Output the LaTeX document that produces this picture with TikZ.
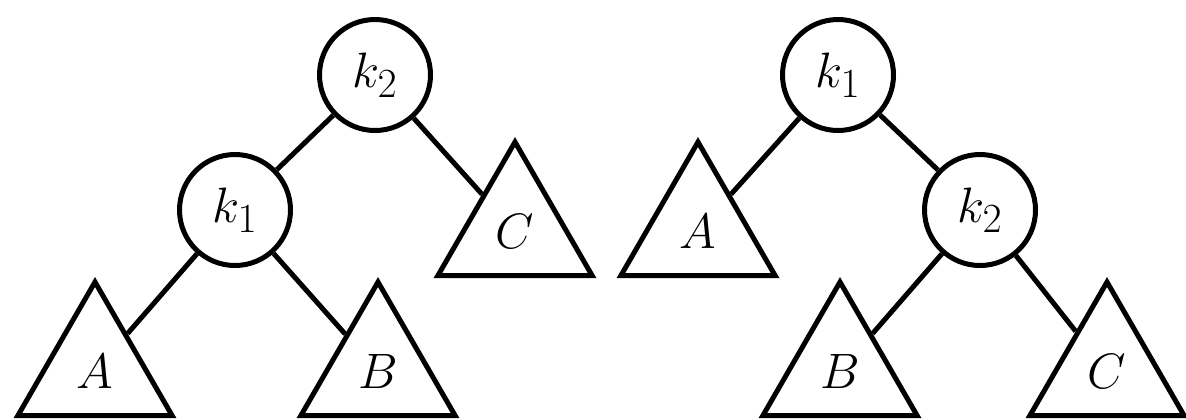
\documentclass[tikz,border=0pt]{standalone}
\usepackage{tikz}
\usetikzlibrary{shapes.geometric}

\begin{document}
\begin{tikzpicture}[
    x=0.5pt, y=-0.5pt,
    knode/.style={draw, circle, line width=2.5pt, minimum size=55.5pt, inner sep=0pt, font=\fontsize{30}{36}\selectfont},
    subtree/.style={draw, regular polygon, regular polygon sides=3, line width=2.5pt, minimum size=89pt, inner sep=0pt, font=\fontsize{30}{36}\selectfont},
    branch/.style={line width=2.5pt},
  ]
    \useasboundingbox (0,0) rectangle (1186,419);

    % ── Left tree (before rotation) ──
    \node[knode] (l-k2) at (375, 75) {$k_2$};
    \node[knode] (l-k1) at (235, 210) {$k_1$};
    \node[subtree] (l-a) at (95, 371) {$A$};
    \node[subtree] (l-b) at (378, 371) {$B$};
    \node[subtree] (l-c) at (515, 231) {$C$};
    \draw[branch] (l-k2) -- (l-k1);
    \draw[branch] (l-k2) -- (l-c);
    \draw[branch] (l-k1) -- (l-a);
    \draw[branch] (l-k1) -- (l-b);

    % ── Right tree (after rotation) ──
    \node[knode] (r-k1) at (838, 75) {$k_1$};
    \node[knode] (r-k2) at (980, 210) {$k_2$};
    \node[subtree] (r-a) at (698, 231) {$A$};
    \node[subtree] (r-b) at (840, 371) {$B$};
    \node[subtree] (r-c) at (1107, 371) {$C$};
    \draw[branch] (r-k1) -- (r-a);
    \draw[branch] (r-k1) -- (r-k2);
    \draw[branch] (r-k2) -- (r-b);
    \draw[branch] (r-k2) -- (r-c);
\end{tikzpicture}
\end{document}
